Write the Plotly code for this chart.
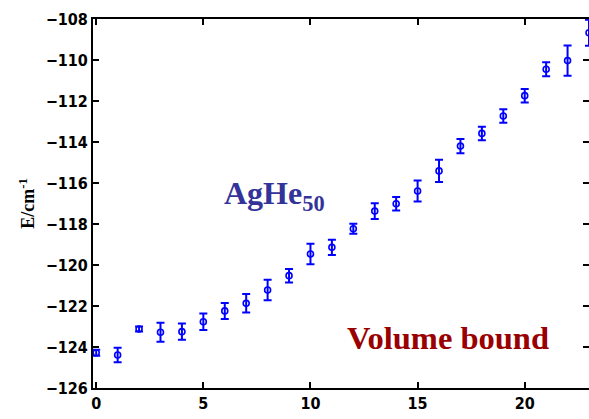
import plotly.graph_objects as go

n_atoms = list(range(24))
energy = [-124.28, -124.39, -123.12, -123.28, -123.25, -122.77, -122.24, -121.87,
          -121.22, -120.52, -119.46, -119.14, -118.23, -117.37, -117.01, -116.39,
          -115.41, -114.20, -113.58, -112.73, -111.74, -110.45, -110.03, -108.67]
err = [0.15, 0.35, 0.12, 0.46, 0.40, 0.40, 0.39, 0.45,
       0.50, 0.33, 0.50, 0.37, 0.24, 0.38, 0.33, 0.51,
       0.54, 0.35, 0.33, 0.33, 0.33, 0.34, 0.74, 0.63]
y_ticks = [-126, -124, -122, -120, -118, -116, -114, -112, -110, -108]
x_ticks = [0, 5, 10, 15, 20]

fig = go.Figure()
fig.add_trace(go.Scatter(
    x=n_atoms, y=energy, mode="markers",
    marker=dict(symbol="circle-open", size=6, color="#0000ff", line=dict(width=1.6)),
    error_y=dict(type="data", array=err, color="#0000ff", thickness=2, width=4),
    cliponaxis=False, showlegend=False))

tickfont = dict(family="Liberation Sans Narrow, DejaVu Sans Condensed, Arial Narrow",
                size=16, color="black", weight="bold")
fig.update_xaxes(range=[-0.15, 23.0], tickvals=x_ticks, ticks="inside", ticklen=6,
                 tickwidth=1.5, tickcolor="black", showline=True, linecolor="black",
                 linewidth=2, mirror="allticks", showgrid=False, zeroline=False,
                 tickfont=tickfont, automargin=False)
fig.update_yaxes(range=[-126, -108], tickvals=y_ticks, ticks="inside", ticklen=6,
                 tickwidth=1.5, tickcolor="black", showline=True, linecolor="black",
                 linewidth=2, mirror="allticks", showgrid=False, zeroline=False,
                 tickfont=tickfont, automargin=False,
                 title=dict(text="<b>E/cm<sup>-1</sup></b>", standoff=6,
                            font=dict(family="Liberation Serif", size=18, color="black")))

fig.add_annotation(x=5.88, y=-116.63, xref="x", yref="y", xanchor="left", yanchor="middle",
                   text="<b>AgHe<sub>50</sub></b>", showarrow=False,
                   font=dict(family="Liberation Serif", size=32, color="#333399"))
fig.add_annotation(x=11.6, y=-123.56, xref="x", yref="y", xanchor="left", yanchor="middle",
                   text="<b>Volume bound</b>", showarrow=False,
                   font=dict(family="Liberation Serif", size=32.5, color="#990000"))

fig.update_layout(width=589, height=419, margin=dict(l=93, r=0, t=19, b=31),
                  plot_bgcolor="white", paper_bgcolor="white")
fig.write_html("out.html", config={"displayModeBar": False},
               post_script="document.body.style.margin='0';document.body.style.overflow='hidden';")
